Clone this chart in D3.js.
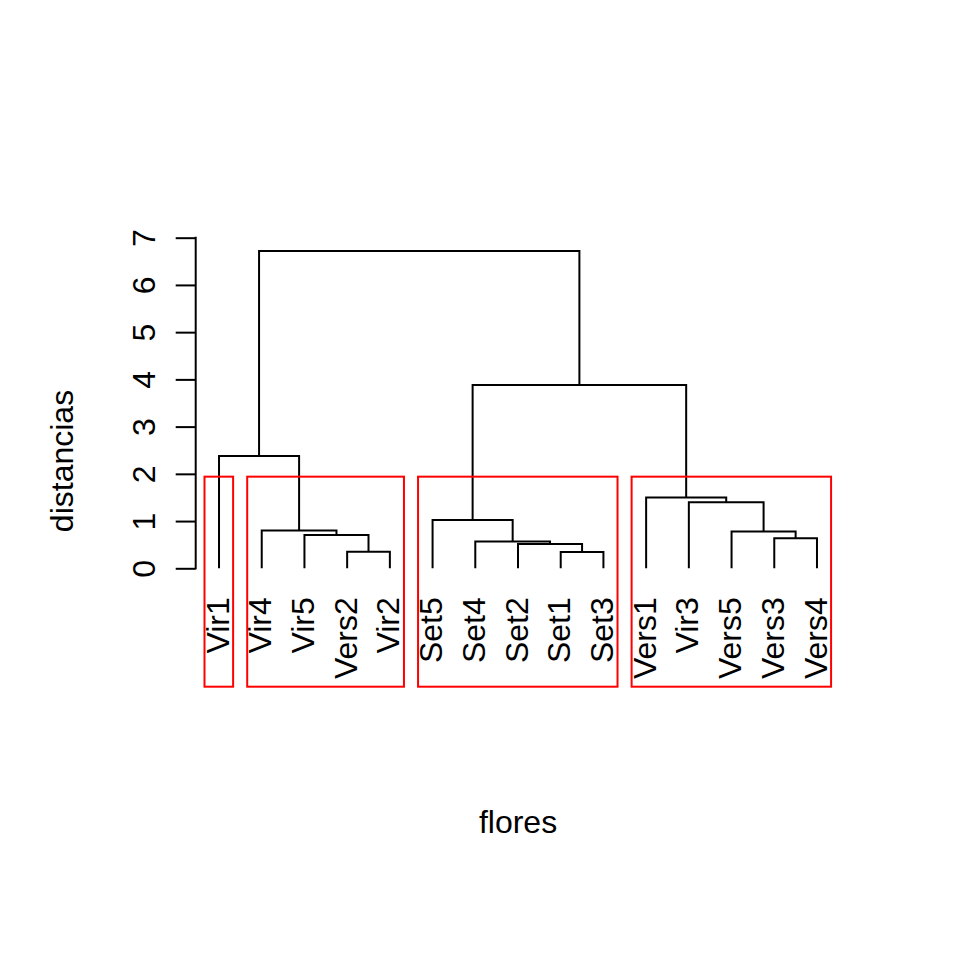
<!DOCTYPE html>
<html>
<head>
<meta charset="utf-8">
<script src="https://cdn.jsdelivr.net/npm/d3@7"></script>
<style>
  body { margin: 0; background: #fff; }
  text { font-family: "Liberation Sans", Arial, Helvetica, sans-serif; fill: #000; }
</style>
</head>
<body>
<script>
// leaves in plotted order
const labels = ["Vir1", "Vir4", "Vir5", "Vers2", "Vir2",
                "Set5", "Set4", "Set2", "Set1", "Set3",
                "Vers1", "Vir3", "Vers5", "Vers3", "Vers4"];

// merge steps: pairs of leaf names or earlier merges ("m" + step number, 1-based)
const mergePairs = [
  ["Set1", "Set3"],
  ["Vers2", "Vir2"],
  ["Set2", "m1"],
  ["Set4", "m3"],
  ["Vers3", "Vers4"],
  ["Vir5", "m2"],
  ["Vers5", "m5"],
  ["Vir4", "m6"],
  ["Set5", "m4"],
  ["Vir3", "m7"],
  ["Vers1", "m10"],
  ["Vir1", "m8"],
  ["m9", "m11"],
  ["m12", "m13"]
];
const mergeHeights = [0.345, 0.35, 0.515, 0.57, 0.635, 0.705, 0.78, 0.80, 1.02, 1.40, 1.50, 2.38, 3.88, 6.72];

const yTicks = [0, 1, 2, 3, 4, 5, 6, 7];
const nClusters = 4;
const xTitle = "flores";
const yTitle = "distancias";

const width = 960, height = 960;
const plot = { left: 195.1, right: 840.9, top: 235, bottom: 686.7 };
const fontSize = 32;

const svg = d3.select("body").append("svg")
  .attr("width", width)
  .attr("height", height);

// R style scales: leaves at 1..n, 4% padding
const n = labels.length;
const x = d3.scaleLinear()
  .domain([1 - 0.04 * (n - 1), n + 0.04 * (n - 1)])
  .range([plot.left, plot.right]);

const y = d3.scaleLinear()
  .domain([-2.507, 7.057])
  .range([plot.bottom, plot.top]);

// build nodes
const nodes = {};
labels.forEach((l, i) => { nodes[l] = { name: l, pos: i + 1, h: 0, first: i + 1, last: i + 1 }; });
mergePairs.forEach((p, i) => {
  const a = nodes[p[0]], b = nodes[p[1]];
  nodes["m" + (i + 1)] = {
    name: "m" + (i + 1),
    pos: (a.pos + b.pos) / 2,
    h: mergeHeights[i],
    children: [a, b],
    first: Math.min(a.first, b.first),
    last: Math.max(a.last, b.last)
  };
});
const root = nodes["m" + mergePairs.length];

// dendrogram branches
const branches = mergePairs.map((p, i) => nodes["m" + (i + 1)]);
svg.append("g")
  .selectAll("path")
  .data(branches)
  .enter().append("path")
    .attr("d", d => {
      const [a, b] = d.children;
      return `M${x(a.pos)},${y(a.h)}V${y(d.h)}H${x(b.pos)}V${y(b.h)}`;
    })
    .attr("fill", "none")
    .attr("stroke", "#000")
    .attr("stroke-width", 2);

// leaf labels
svg.append("g")
  .selectAll("text")
  .data(labels)
  .enter().append("text")
    .attr("transform", (d, i) => `translate(${x(i + 1)},${y(0) + 29}) rotate(-90)`)
    .attr("dy", "0.3em")
    .attr("text-anchor", "end")
    .style("font-size", fontSize + "px")
    .text(d => d);

// y axis
const yAxis = d3.axisLeft(y)
  .tickValues(yTicks)
  .tickSize(20)
  .tickFormat(d3.format("d"));

const axisG = svg.append("g")
  .attr("transform", `translate(${plot.left + 0.6},0)`)
  .call(yAxis);

axisG.select(".domain").remove();
axisG.selectAll(".tick line").attr("stroke", "#000").attr("stroke-width", 2);
axisG.selectAll(".tick text")
  .attr("x", 0)
  .attr("y", -40.7)
  .attr("dy", 0)
  .attr("transform", "rotate(-90)")
  .attr("text-anchor", "middle")
  .attr("font-family", null)
  .attr("font-size", null)
  .style("font-size", fontSize + "px");

axisG.append("line")
  .attr("y1", y(yTicks[0]))
  .attr("y2", y(yTicks[yTicks.length - 1]))
  .attr("stroke", "#000")
  .attr("stroke-width", 2)
  .attr("stroke-linecap", "square");

// cluster boxes (rect.hclust style)
const sortedH = mergeHeights.slice().sort((a, b) => b - a);
const cutH = (sortedH[nClusters - 2] + sortedH[nClusters - 1]) / 2;
const clusters = [];
(function cut(node) {
  if (node.h > cutH && node.children) node.children.forEach(cut);
  else clusters.push(node);
})(root);

svg.append("g")
  .selectAll("rect")
  .data(clusters)
  .enter().append("rect")
    .attr("x", d => x(d.first - 0.34))
    .attr("y", y(cutH))
    .attr("width", d => x(d.last + 0.33) - x(d.first - 0.34))
    .attr("height", y(y.domain()[0]) - y(cutH))
    .attr("fill", "none")
    .attr("stroke", "#ff0000")
    .attr("stroke-width", 2);

// axis titles
svg.append("text")
  .attr("x", (plot.left + plot.right) / 2)
  .attr("y", 833)
  .attr("text-anchor", "middle")
  .style("font-size", fontSize + "px")
  .text(xTitle);

svg.append("text")
  .attr("transform", `translate(73,461) rotate(-90)`)
  .attr("text-anchor", "middle")
  .style("font-size", fontSize + "px")
  .text(yTitle);
</script>
</body>
</html>
